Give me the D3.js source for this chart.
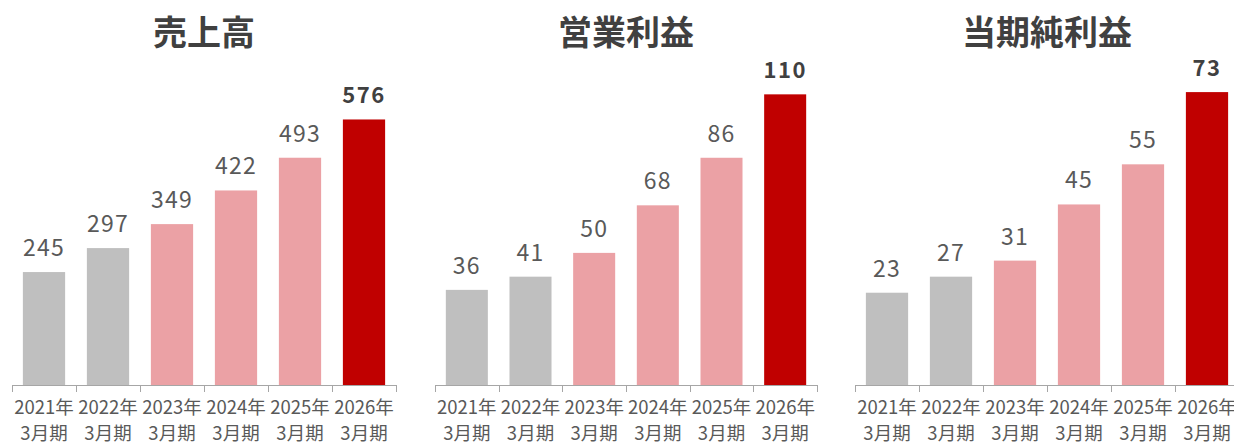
<!doctype html>
<head>
  <meta charset="utf-8">
  <title>業績推移</title>
  <script src="https://d3js.org/d3.v7.min.js"></script>
</head>
<style>
  body { margin: 0; background: #fff; }
  svg { display: block; }
  .title { font-family: "Noto Sans CJK JP", sans-serif; font-weight: bold; font-size: 34px; fill: #404040; text-anchor: middle; }
  .val { font-family: "Noto Sans CJK JP", sans-serif; font-size: 23px; fill: #595959; text-anchor: middle; letter-spacing: 1.2px; }
  .val.last { font-weight: bold; fill: #404040; font-size: 22px; letter-spacing: 1.5px; }
  .tick-lab { font-family: "Noto Sans CJK JP", sans-serif; font-size: 18.5px; fill: #595959; text-anchor: middle; }
</style>
<body>
<div id="chart"></div>
<script>

  // categories and values
  var years = ["2021年", "2022年", "2023年", "2024年", "2025年", "2026年"];
  var period = "3月期";
  var titles = ["売上高", "営業利益", "当期純利益"];
  var sales = [245, 297, 349, 422, 493, 576];
  var operatingProfit = [36, 41, 50, 68, 86, 110];
  var netProfit = [23, 27, 31, 45, 55, 73];
  var series = [sales, operatingProfit, netProfit];
  var yMax = [705, 123, 81];

  var barColors = ["#bfbfbf", "#bfbfbf", "#eba1a5", "#eba1a5", "#eba1a5", "#c00000"];

  var width = 1234, height = 446;
  var baseY = 385, topY = 60;
  var panelX = [[12, 396], [435, 817], [855, 1239]];

  var svg = d3.select("#chart").append("svg")
      .attr("width", width)
      .attr("height", height);

  series.forEach(function(vals, p) {
    var x = d3.scaleBand().domain(years).range(panelX[p]).paddingInner(0.34).paddingOuter(0.17);
    var y = d3.scaleLinear().domain([0, yMax[p]]).range([baseY, topY]);
    var g = svg.append("g");

    // title
    g.append("text")
        .attr("class", "title")
        .attr("x", (panelX[p][0] + panelX[p][1]) / 2)
        .attr("y", 45)
        .text(titles[p]);

    // bars
    g.selectAll("rect").data(vals).enter().append("rect")
        .attr("x", function(d, i) { return x(years[i]); })
        .attr("y", function(d) { return y(d); })
        .attr("width", x.bandwidth())
        .attr("height", function(d) { return baseY - y(d); })
        .style("fill", function(d, i) { return barColors[i]; });

    // value labels
    g.selectAll("text.val").data(vals).enter().append("text")
        .attr("class", function(d, i) { return i === vals.length - 1 ? "val last" : "val"; })
        .attr("x", function(d, i) { return x(years[i]) + x.bandwidth() / 2; })
        .attr("y", function(d) { return y(d) - 16; })
        .text(function(d) { return d; });

    // axis line with ticks at band edges
    var edges = d3.range(years.length + 1).map(function(i) { return panelX[p][0] + i * (panelX[p][1] - panelX[p][0]) / years.length; });
    g.append("line")
        .attr("x1", panelX[p][0]).attr("x2", panelX[p][1])
        .attr("y1", baseY + 0.5).attr("y2", baseY + 0.5)
        .style("stroke", "#a6a6a6").style("stroke-width", 1);
    g.selectAll("line.tk").data(edges).enter().append("line")
        .attr("class", "tk")
        .attr("x1", function(d) { return Math.round(d) + 0.5; })
        .attr("x2", function(d) { return Math.round(d) + 0.5; })
        .attr("y1", baseY).attr("y2", baseY + 7)
        .style("stroke", "#a6a6a6").style("stroke-width", 1);

    // category labels (two lines)
    years.forEach(function(yr, i) {
      var cx = x(yr) + x.bandwidth() / 2;
      g.append("text").attr("class", "tick-lab").attr("x", cx).attr("y", 414).text(yr);
      g.append("text").attr("class", "tick-lab").attr("x", cx).attr("y", 440).text(period);
    });
  });

</script>
</body>
